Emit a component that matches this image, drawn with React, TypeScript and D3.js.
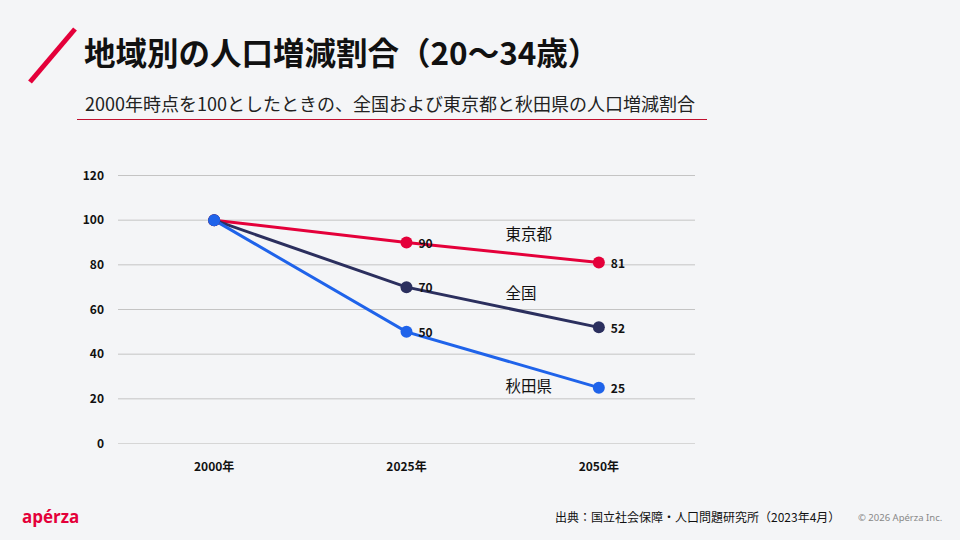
import React from "react";
import * as d3 from "d3";

const years = ["2000年", "2025年", "2050年"];
const yTicks = [0, 20, 40, 60, 80, 100, 120];

const tokyo = [100, 90, 81];
const national = [100, 70, 52];
const akita = [100, 50, 25];

const seriesNames = ["東京都", "全国", "秋田県"];
// where the series names sit, in data units (value on y)
const nameValues = [93.5, 67, 25.5];

const colors = ["#e4003a", "#2b2f5e", "#1f63ea"];

const FONT = "'Noto Sans CJK JP', 'Noto Sans', sans-serif";

const width = 960;
const height = 540;
const margin = { top: 175.5, right: 265, bottom: 96.5, left: 118 };

const App: React.FC = () => {
  const innerWidth = width - margin.left - margin.right;
  const innerHeight = height - margin.top - margin.bottom;

  const x = d3.scalePoint<string>().domain(years).range([0, innerWidth]).padding(0.5);
  const y = d3.scaleLinear().domain([0, 120]).range([innerHeight, 0]);

  const line = d3
    .line<number>()
    .x((_, i) => x(years[i])!)
    .y((d) => y(d));

  const series = [tokyo, national, akita];

  // name labels sit between 2025 and 2050
  const nameX = x(years[1])! + (x(years[2])! - x(years[1])!) * 0.515;

  return (
    <svg
      width={width}
      height={height}
      style={{ position: "absolute", left: 0, top: 0, background: "#f4f5f7" }}
      fontFamily={FONT}
    >
      <rect width={width} height={height} fill="#f4f5f7" />

      {/* header */}
      <line x1={30} y1={82} x2={75} y2={29} stroke="#e4003a" strokeWidth={5} />
      <text x={84} y={65} fontSize={31.5} fontWeight={700} fill="#111">
        地域別の人口増減割合（20〜34歳）
      </text>
      <text x={85} y={111} fontSize={18} fill="#222">
        2000年時点を100としたときの、全国および東京都と秋田県の人口増減割合
      </text>
      <line x1={77} y1={119.5} x2={707} y2={119.5} stroke="#c0102e" strokeWidth={1} />

      <g transform={`translate(${margin.left},${margin.top})`}>
        {/* grid */}
        {yTicks.map((t) => (
          <g key={t}>
            <line
              x1={0}
              x2={innerWidth}
              y1={y(t)}
              y2={y(t)}
              stroke={t === 0 ? "#d6d6d6" : "#c4c4c4"}
              strokeWidth={1}
            />
            <text
              x={-14}
              y={y(t)}
              dy="0.35em"
              textAnchor="end"
              fontSize={12}
              fontWeight={700}
              fill="#111"
            >
              {t}
            </text>
          </g>
        ))}

        {years.map((yr) => (
          <text
            key={yr}
            x={x(yr)}
            y={innerHeight + 23}
            dy="0.35em"
            textAnchor="middle"
            fontSize={12}
            fontWeight={700}
            fill="#111"
          >
            {yr}
          </text>
        ))}

        {/* lines, back to front so the blue dot sits on top at 2000 */}
        {series.map((s, si) => (
          <path key={si} d={line(s)!} fill="none" stroke={colors[si]} strokeWidth={3} />
        ))}
        {series.map((s, si) =>
          s.map((v, i) => (
            <circle key={`${si}-${i}`} cx={x(years[i])} cy={y(v)} r={6} fill={colors[si]} />
          ))
        )}

        {/* value labels */}
        {series.map((s, si) =>
          s.map((v, i) =>
            i === 0 ? null : (
              <text
                key={`l-${si}-${i}`}
                x={x(years[i])! + 12}
                y={y(v) + 1}
                dy="0.35em"
                fontSize={12}
                fontWeight={700}
                fill="#111"
              >
                {v}
              </text>
            )
          )
        )}

        {/* series names */}
        {seriesNames.map((n, i) => (
          <text key={n} x={nameX} y={y(nameValues[i])} dy="0.35em" fontSize={15.5} fill="#111">
            {n}
          </text>
        ))}
      </g>

      {/* footer */}
      <text x={22} y={523} fontSize={17} fontWeight={700} fill="#e4003a" fontFamily="'Open Sans', sans-serif">
        apérza
      </text>
      <text x={555} y={518} dy="0.35em" fontSize={12} fill="#111">
        出典：国立社会保障・人口問題研究所（2023年4月）
      </text>
      <text x={858} y={518} dy="0.35em" fontSize={9.5} fill="#888" fontFamily="'Noto Sans', sans-serif">
        © 2026 Apérza Inc.
      </text>
    </svg>
  );
};

export default App;
